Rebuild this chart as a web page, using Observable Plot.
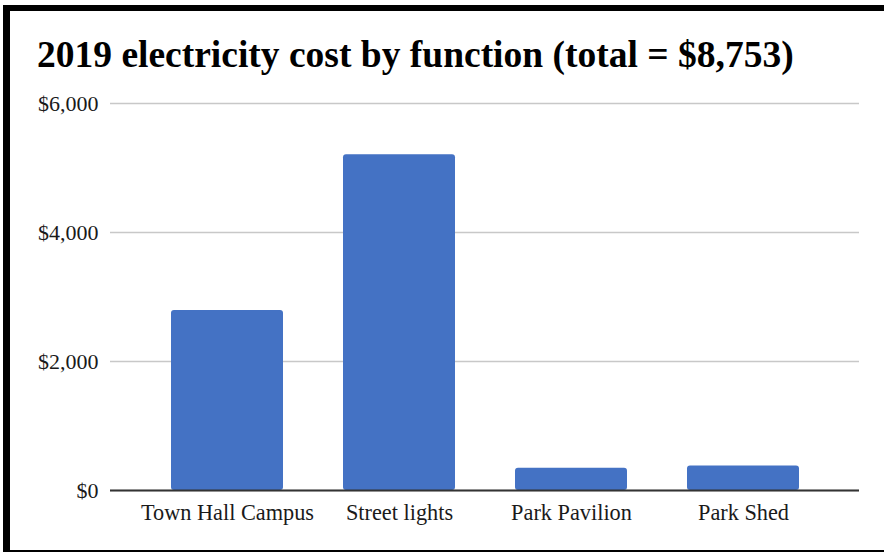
<!DOCTYPE html>
<html>
<head>
<meta charset="utf-8">
<script src="https://cdn.jsdelivr.net/npm/d3@7"></script>
<script src="https://cdn.jsdelivr.net/npm/@observablehq/plot@0.6"></script>
<style>
  html, body { margin: 0; padding: 0; background: #fff; }
  #frame { position: relative; width: 884px; height: 552px; overflow: hidden; background: #fff; font-family: "Liberation Serif", "Times New Roman", serif; }
  .bar-left { position: absolute; left: 3px; top: 5px; width: 7px; height: 547px; background: #000; }
  .bar-top { position: absolute; left: 3px; top: 5px; width: 881px; height: 6px; background: #000; }
  .bar-bottom { position: absolute; left: 3px; top: 550px; width: 881px; height: 2px; background: #000; }
  #title { position: absolute; left: 37px; top: 33px; font-size: 37.5px; font-weight: bold; color: #000; white-space: nowrap; line-height: 44px; }
  #chart { position: absolute; left: 0; top: 80px; }
</style>
</head>
<body>
<div id="frame">
  <div class="bar-left"></div>
  <div class="bar-top"></div>
  <div class="bar-bottom"></div>
  <div id="title">2019 electricity cost by function (total = $8,753)</div>
  <div id="chart"></div>
</div>
<script>
const categories = ["Town Hall Campus", "Street lights", "Park Pavilion", "Park Shed"];
const costs = [2790, 5205, 345, 378];
const yTicks = [0, 2000, 4000, 6000];

const data = categories.map((c, i) => ({category: c, cost: costs[i]}));
const fmt = d3.format(",");

const chart = Plot.plot({
  width: 884,
  height: 460,
  marginLeft: 110,
  marginRight: 25,
  marginTop: 23,
  marginBottom: 50,
  style: {fontFamily: "'Liberation Serif', 'Times New Roman', serif", fontSize: "22px", color: "#1a1a1a", background: "transparent"},
  x: {domain: categories, padding: 0.35, label: null},
  y: {domain: [0, 6000], label: null},
  marks: [
    Plot.gridY(yTicks, {stroke: "#c8c8c8", strokeOpacity: 1, strokeWidth: 1.5}),
    Plot.axisY(yTicks, {tickSize: 0, tickPadding: 12, tickFormat: d => "$" + fmt(d), fontSize: 22, fill: "#1a1a1a", label: null}),
    Plot.axisX({tickSize: 0, tickPadding: 14, fontSize: 22.3, fill: "#1a1a1a", label: null}),
    Plot.barY(data, {x: "category", y: "cost", fill: "#4472C4", rx: 3}),
    Plot.ruleY([0], {stroke: "#333", strokeWidth: 2})
  ]
});
document.getElementById("chart").appendChild(chart);
</script>
</body>
</html>
